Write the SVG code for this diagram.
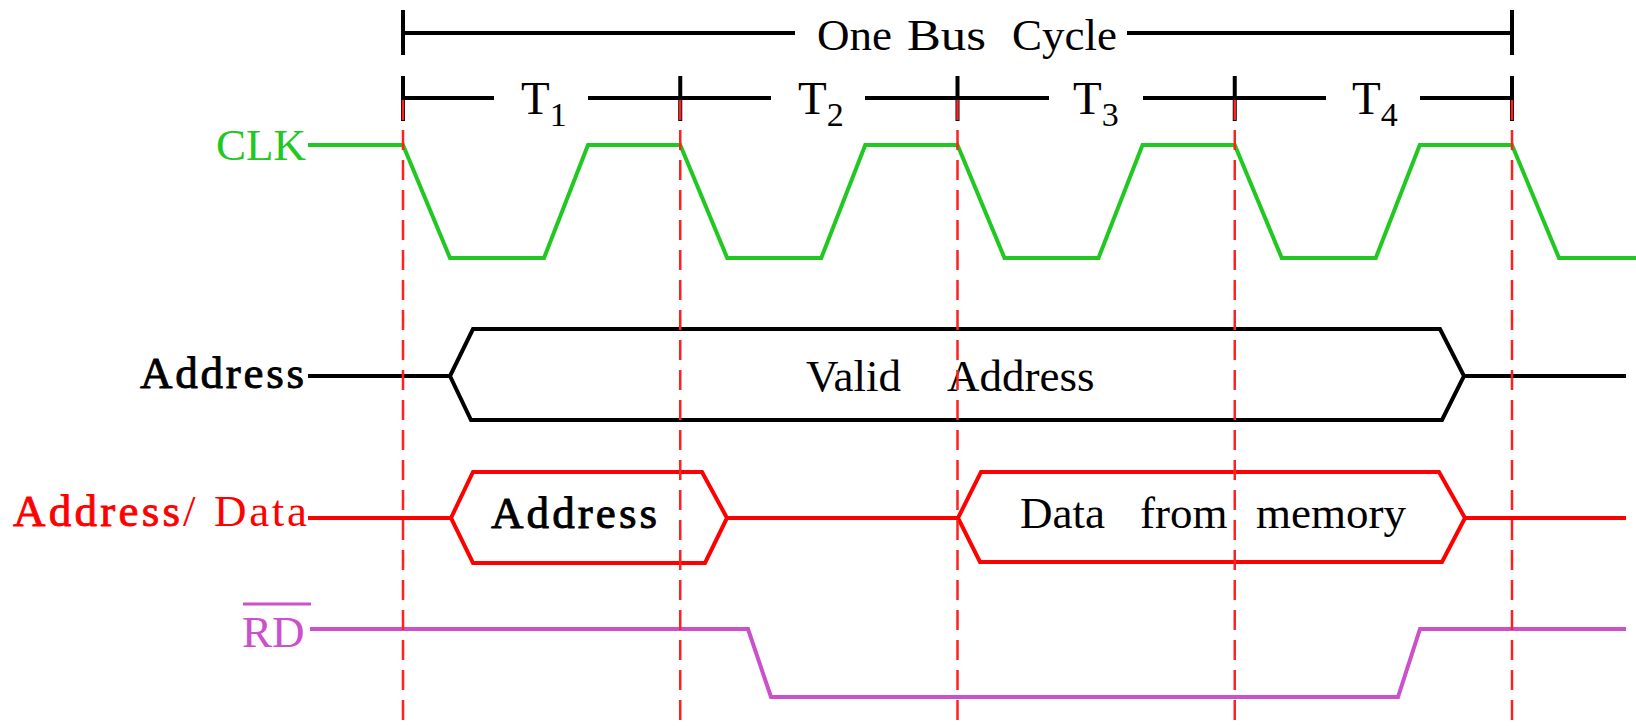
<svg xmlns="http://www.w3.org/2000/svg" width="1636" height="726" viewBox="0 0 1636 726">
  <style>
    .txt { font-family: "Liberation Serif", "Times New Roman", serif; font-size: 45px; }
    .semi { stroke-width: 0.9px; stroke-linejoin: round; }
    .bar { stroke: #000; stroke-width: 4; fill: none; }
    .sig { stroke-width: 4; fill: none; stroke-linejoin: miter; }
    .clk { stroke: #22c822; }
    .addr { stroke: #000; }
    .ad { stroke: #ff0000; }
    .rd { stroke: #cc4fcc; }
    .grid { stroke: #ff2020; stroke-width: 2.5; stroke-dasharray: 20 10; fill: none; }
  </style>
  <rect width="1636" height="726" fill="#fff"/>

  <!-- Bus cycle span -->
  <g id="bus-cycle">
    <path class="bar" d="M403,10 V55 M1512,10 V55 M403,33 H795 M1127,33 H1512"/>
    <text class="txt" y="49.5"><tspan x="817">One</tspan><tspan x="907" textLength="79" lengthAdjust="spacingAndGlyphs">Bus</tspan><tspan x="1012">Cycle</tspan></text>
  </g>

  <!-- T states -->
  <g id="t-states">
    <path class="bar" d="M403,76 V121 M680.25,76 V121 M957.5,76 V121 M1234.75,76 V121 M1512,76 V121
      M403,98 H494 M588,98 H771 M865,98 H1049 M1143,98 H1326 M1420,98 H1512"/>
    <text class="txt" style="font-size:47px" y="114"><tspan x="521">T</tspan><tspan dy="12" style="font-size:34px">1</tspan></text>
    <text class="txt" style="font-size:47px" y="114"><tspan x="798">T</tspan><tspan dy="12" style="font-size:34px">2</tspan></text>
    <text class="txt" style="font-size:47px" y="114"><tspan x="1073">T</tspan><tspan dy="12" style="font-size:34px">3</tspan></text>
    <text class="txt" style="font-size:47px" y="114"><tspan x="1352">T</tspan><tspan dy="12" style="font-size:34px">4</tspan></text>
  </g>

  <!-- CLK -->
  <g id="clk">
    <text class="txt" x="306" y="160" text-anchor="end" fill="#22c822">CLK</text>
    <path class="sig clk" d="M308,145 H403 L450,258 H544 L588,145 H680.25 L727.25,258 H821.25 L865.25,145 H957.5 L1004.5,258 H1098.5 L1142.5,145 H1234.75 L1281.75,258 H1375.75 L1419.75,145 H1512 L1559,258 H1636"/>
  </g>

  <!-- Address bus -->
  <g id="address">
    <text class="txt semi" x="140" y="388" fill="#000" stroke="#000" textLength="164" lengthAdjust="spacing">Address</text>
    <path class="sig addr" d="M308,376 H450 M1464,376 H1626"/>
    <polygon class="sig addr" points="450,376 473,329 1440,329 1464,376 1442,420 471,420"/>
    <text class="txt" y="391"><tspan x="806">Valid</tspan><tspan x="947">Address</tspan></text>
  </g>

  <!-- Multiplexed address/data bus -->
  <g id="address-data">
    <text class="txt" y="526" fill="#ff0000"><tspan class="semi" stroke="#ff0000" x="13" textLength="167" lengthAdjust="spacing">Address</tspan><tspan x="183">/</tspan><tspan x="214" textLength="93" lengthAdjust="spacing">Data</tspan></text>
    <path class="sig ad" d="M308,518 H451 M727,518 H958 M1465,518 H1626"/>
    <polygon class="sig ad" points="451,518 473,472 702,472 727,518 705,563 473,563"/>
    <polygon class="sig ad" points="958,518 981,472 1439,472 1465,518 1442,562 980,562"/>
    <text class="txt semi" x="491" y="528" fill="#000" stroke="#000" textLength="166" lengthAdjust="spacing">Address</text>
    <text class="txt" y="528"><tspan x="1020">Data</tspan><tspan x="1140">from</tspan><tspan x="1256">memory</tspan></text>
  </g>

  <!-- Read strobe (active low) -->
  <g id="rd">
    <text class="txt" x="242" y="647" fill="#cc4fcc">RD</text>
    <line x1="243" y1="604" x2="311" y2="604" stroke="#cc4fcc" stroke-width="3"/>
    <path class="sig rd" d="M310,629 H748 L771,697 H1398 L1420,629 H1626"/>
  </g>

  <!-- Clock edge reference lines -->
  <g id="connectors">
    <line class="grid" x1="403" y1="100" x2="403" y2="726"/>
    <line class="grid" x1="680.25" y1="100" x2="680.25" y2="726"/>
    <line class="grid" x1="957.5" y1="100" x2="957.5" y2="726"/>
    <line class="grid" x1="1234.75" y1="100" x2="1234.75" y2="726"/>
    <line class="grid" x1="1512" y1="100" x2="1512" y2="726"/>
  </g>
</svg>
